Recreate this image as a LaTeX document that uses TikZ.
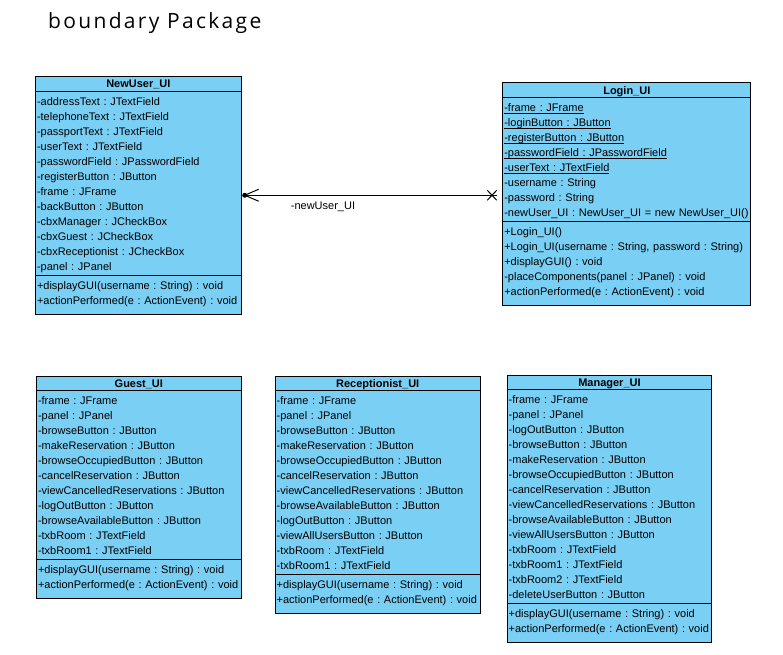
\documentclass[tikz,border=0pt]{standalone}
\usepackage{fontspec}
\setmainfont{Liberation Sans}
\newfontfamily\titlefont[LetterSpace=11]{Open Sans}
\usetikzlibrary{shapes.multipart,positioning}
\definecolor{classfill}{RGB}{122,207,245}
\frenchspacing
\newcommand{\classname}[1]{\centering\rule[-1.35pt]{0pt}{10.7pt}\smash{\textbf{#1}}\par}
\newcommand{\member}[1]{\rule[-3pt]{0pt}{15pt}#1\par}
\newcommand{\lastmember}[1]{\rule[-7.8pt]{0pt}{15pt}#1\par}
\newcommand{\static}[1]{\setbox0\hbox{#1}\rlap{\rule[-2pt]{\wd0}{0.8pt}}\box0}
\tikzset{
  classbox/.style={rectangle split, rectangle split parts=3, draw, line width=1pt,
    fill=classfill, text width=#1, align=left, inner xsep=1.5pt, inner ysep=1.5pt,
    anchor=north west, font=\fontsize{11}{15}\selectfont\frenchspacing},
  rolename/.style={anchor=west, inner sep=0pt, font=\fontsize{11}{15}\selectfont}
}
\begin{document}
\begin{tikzpicture}[x=1pt,y=-1pt]
        \useasboundingbox (0,0) rectangle (783,654);
        %%%%%%%%%% Title %%%%%%%%%%
        \node[anchor=base west, inner sep=0pt, font=\titlefont\fontsize{21}{24}\selectfont] (title) at (48,28.3) {boundary Package};

        %%%%%%%%%% Classes %%%%%%%%%%
        \node[classbox=202.7pt] (nu) at (35,76) {\classname{NewUser\_UI}
            \nodepart{two}
            \member{-addressText : JTextField}
            \member{-telephoneText : JTextField}
            \member{-passportText : JTextField}
            \member{-userText : JTextField}
            \member{-passwordField : JPasswordField}
            \member{-registerButton : JButton}
            \member{-frame : JFrame}
            \member{-backButton : JButton}
            \member{-cbxManager : JCheckBox}
            \member{-cbxGuest : JCheckBox}
            \member{-cbxReceptionist : JCheckBox}
            \member{-panel : JPanel}
            \nodepart{three}
            \member{+displayGUI(username : String) : void}
            \lastmember{+actionPerformed(e : ActionEvent) : void}};
        \node[classbox=245pt] (lg) at (502.3,82.3) {\classname{Login\_UI}
            \nodepart{two}
            \member{\static{-frame : JFrame}}
            \member{\static{-loginButton : JButton}}
            \member{\static{-registerButton : JButton}}
            \member{\static{-passwordField : JPasswordField}}
            \member{\static{-userText : JTextField}}
            \member{-username : String}
            \member{-password : String}
            \member{-newUser\_UI : NewUser\_UI = new NewUser\_UI()}
            \nodepart{three}
            \member{+Login\_UI()}
            \member{+Login\_UI(username : String, password : String)}
            \member{+displayGUI() : void}
            \member{-placeComponents(panel : JPanel) : void}
            \lastmember{+actionPerformed(e : ActionEvent) : void}};
        \node[classbox=201.7pt] (gu) at (36,375.7) {\classname{Guest\_UI}
            \nodepart{two}
            \member{-frame : JFrame}
            \member{-panel : JPanel}
            \member{-browseButton : JButton}
            \member{-makeReservation : JButton}
            \member{-browseOccupiedButton : JButton}
            \member{-cancelReservation : JButton}
            \member{-viewCancelledReservations : JButton}
            \member{-logOutButton : JButton}
            \member{-browseAvailableButton : JButton}
            \member{-txbRoom : JTextField}
            \member{-txbRoom1 : JTextField}
            \nodepart{three}
            \member{+displayGUI(username : String) : void}
            \lastmember{+actionPerformed(e : ActionEvent) : void}};
        \node[classbox=202pt] (rc) at (274.7,375.7) {\classname{Receptionist\_UI}
            \nodepart{two}
            \member{-frame : JFrame}
            \member{-panel : JPanel}
            \member{-browseButton : JButton}
            \member{-makeReservation : JButton}
            \member{-browseOccupiedButton : JButton}
            \member{-cancelReservation : JButton}
            \member{-viewCancelledReservations : JButton}
            \member{-browseAvailableButton : JButton}
            \member{-logOutButton : JButton}
            \member{-viewAllUsersButton : JButton}
            \member{-txbRoom : JTextField}
            \member{-txbRoom1 : JTextField}
            \nodepart{three}
            \member{+displayGUI(username : String) : void}
            \lastmember{+actionPerformed(e : ActionEvent) : void}};
        \node[classbox=201.5pt] (mg) at (506.7,374.7) {\classname{Manager\_UI}
            \nodepart{two}
            \member{-frame : JFrame}
            \member{-panel : JPanel}
            \member{-logOutButton : JButton}
            \member{-browseButton : JButton}
            \member{-makeReservation : JButton}
            \member{-browseOccupiedButton : JButton}
            \member{-cancelReservation : JButton}
            \member{-viewCancelledReservations : JButton}
            \member{-browseAvailableButton : JButton}
            \member{-viewAllUsersButton : JButton}
            \member{-txbRoom : JTextField}
            \member{-txbRoom1 : JTextField}
            \member{-txbRoom2 : JTextField}
            \member{-deleteUserButton : JButton}
            \nodepart{three}
            \member{+displayGUI(username : String) : void}
            \lastmember{+actionPerformed(e : ActionEvent) : void}};

        %%%%%%%%%% Association %%%%%%%%%%
        \coordinate (nuend) at ([xshift=3pt]nu.east);
        \coordinate (lgend) at ([xshift=-10.3pt]nu.east -| lg.west);
        \draw[line width=1pt] (nuend) -- ([xshift=5pt]lgend);
        \fill (nuend) circle (2.5pt);
        \draw[line width=1pt] ([shift={(14pt,6pt)}]nuend) -- (nuend) -- ([shift={(14pt,-6pt)}]nuend);
        \draw[line width=1pt] ([shift={(-4.7pt,-5pt)}]lgend) -- ([shift={(4.7pt,5pt)}]lgend)
                              ([shift={(-4.7pt,5pt)}]lgend) -- ([shift={(4.7pt,-5pt)}]lgend);
        \node[rolename] (role) at ([shift={(46pt,-12pt)}]nuend) {-newUser\_UI};
    \end{tikzpicture}
\end{document}
